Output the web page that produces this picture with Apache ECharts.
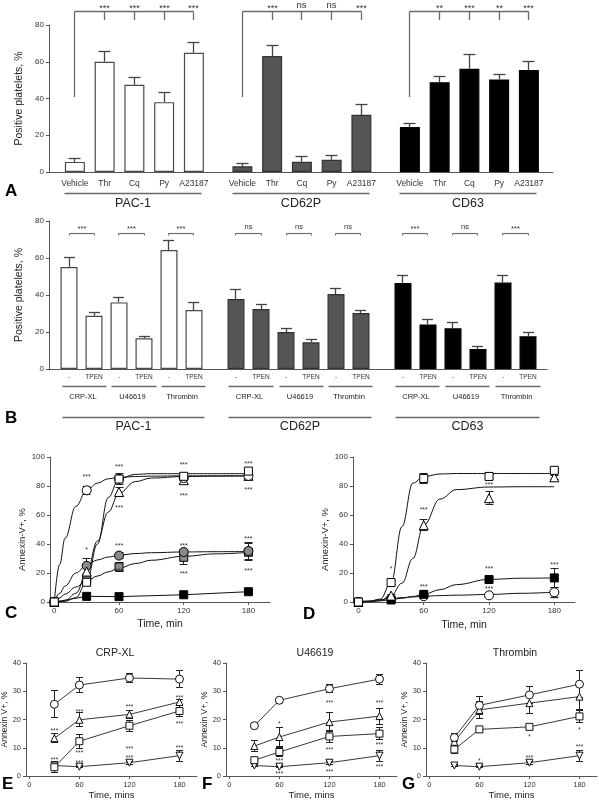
<!DOCTYPE html>
<html><head><meta charset="utf-8">
<script src="https://cdn.jsdelivr.net/npm/echarts@6/dist/echarts.min.js"></script>
<style>html,body{margin:0;padding:0;background:#fff}#c{width:599px;height:800px}</style>
</head><body><div id="c"></div><script>
// ---------------- Panel A data ----------------
const aGroups = ['PAC-1', 'CD62P', 'CD63'];
const aCategories = ['Vehicle', 'Thr', 'Cq', 'Py', 'A23187'];
const aPAC1 = [5.5, 60.0, 47.5, 38.0, 64.9];
const aPAC1Err = [2.1, 5.5, 4.1, 5.1, 5.6];
const aCD62P = [3.1, 63.1, 5.6, 6.7, 31.1];
const aCD62PErr = [1.3, 5.6, 2.9, 2.4, 5.8];
const aCD63 = [24.5, 48.9, 56.2, 50.4, 55.5];
const aCD63Err = [2.0, 3.1, 7.8, 2.5, 4.9];
const aSignif = [['***', '***', '***', '***'], ['***', 'ns', 'ns', '***'], ['**', '***', '**', '***']];
const aYTicks = [0, 20, 40, 60, 80];

// ---------------- Panel B data ----------------
const bGroups = ['PAC-1', 'CD62P', 'CD63'];
const bStimuli = ['CRP-XL', 'U46619', 'Thrombin'];
const bTreatments = ['-', 'TPEN'];
const bPAC1 = [55.1, 28.8, 36.0, 16.6, 64.3, 31.9];
const bPAC1Err = [5.3, 1.7, 2.9, 1.2, 5.2, 3.8];
const bCD62P = [37.8, 32.4, 20.0, 14.4, 40.5, 30.3];
const bCD62PErr = [5.3, 2.7, 2.0, 1.8, 2.9, 1.2];
const bCD63 = [46.5, 24.1, 22.0, 10.8, 46.7, 17.7];
const bCD63Err = [4.1, 2.7, 3.4, 1.1, 3.8, 2.1];
const bSignif = [['***', '***', '***'], ['ns', 'ns', 'ns'], ['***', 'ns', '***']];
const bYTicks = [0, 20, 40, 60, 80];

// ---------------- Panel C data ----------------
const cTimes = [0, 30, 60, 120, 180];
const cOpenCircle = [0, 77.0, 85.0, 85.5, 87.0];
const cOpenCircleErr = [0, 3.0, 0, 0, 0];
const cOpenSquare = [0, 13.6, 84.8, 86.7, 90.3];
const cOpenSquareErr = [0, 2.0, 3.8, 2.0, 0];
const cOpenTriangle = [0, 21.0, 75.9, 84.0, 87.0];
const cOpenTriangleErr = [0, 3.0, 3.0, 2.0, 0];
const cGreyCircle = [0, 25.0, 32.0, 34.5, 35.2];
const cGreyCircleErr = [0, 5.0, 2.0, 1.5, 6.0];
const cGreySquare = [0, 16.0, 24.2, 30.8, 34.3];
const cGreySquareErr = [0, 2.5, 3.0, 4.6, 6.0];
const cBlackSquare = [0, 3.9, 3.7, 5.0, 7.1];
const cFitTimes = [0, 5, 10, 20, 30, 40, 50, 60, 75, 90, 120, 150, 180];
const cOpenCircleFit = [0, 26, 44, 66, 77, 82, 85, 86, 86.5, 86.8, 87, 87, 87];
const cOpenSquareFit = [0, 0.2, 0.5, 3, 14, 40, 72, 85, 88, 88.5, 88.5, 88.5, 88.5];
const cOpenTriangleFit = [0, 0.4, 1, 6, 20, 42, 62, 75, 83, 85.5, 86.5, 86.8, 87];
const cGreyCircleFit = [0, 6, 11, 20, 25.5, 29, 31, 32.3, 33.4, 34, 34.5, 34.7, 34.8];
const cGreySquareFit = [0, 2.8, 5.5, 10.3, 14.5, 17.9, 20.8, 23.3, 26.5, 28.8, 31.5, 33.2, 34.2];
const cStars = [[30, 87.6, '***'], [30, 37, '*'],
  [60, 94.5, '***'], [60, 66.4, '***'], [60, 40, '***'], [60, 22.8, '***'],
  [120, 95.6, '***'], [120, 74.5, '***'], [120, 40, '***'], [120, 20.9, '***'],
  [180, 96.3, '***'], [180, 78.8, '***'], [180, 44.6, '***'], [180, 22.8, '***']];

// ---------------- Panel D data ----------------
const dTimes = [0, 30, 60, 120, 180];
const dOpenSquare = [0, 13.4, 85.2, 86.6, 90.8];
const dOpenSquareErr = [0, 1.5, 3.5, 1.5, 1.0];
const dOpenTriangle = [0, 4.4, 53.0, 71.6, 86.0];
const dOpenTriangleErr = [0, 1.0, 4.0, 4.6, 1.5];
const dBlackSquare = [0, 1.4, 5.3, 15.5, 16.6];
const dBlackSquareErr = [0, 0.5, 1.0, 1.5, 6.5];
const dOpenCircle = [0, 2.0, 4.0, 4.6, 6.7];
const dOpenCircleErr = [0, 0.5, 0.5, 0.5, 3.3];
const dFitTimes = [0, 10, 20, 30, 40, 50, 60, 75, 90, 120, 150, 180];
const dOpenSquareFit = [0, 0.3, 2, 13.4, 52, 82, 86.5, 88.3, 88.6, 88.6, 88.6, 88.6];
const dOpenTriangleFit = [0, 0.2, 1, 4.5, 13, 30, 53, 71, 77.5, 79.3, 79.5, 79.5];
const dBlackSquareFit = [0, 0.2, 0.8, 1.6, 2.6, 3.8, 5.3, 8.5, 12, 15.6, 16.4, 16.6];
const dOpenCircleFit = [0, 0.8, 1.6, 2.3, 3, 3.5, 4, 4.4, 4.7, 5.2, 6, 6.8];
const dStars = [[30, 24.4, '*'], [60, 64.6, '***'], [60, 11.7, '***'],
  [120, 82.3, '***'], [120, 24.4, '***'], [120, 10.1, '***'],
  [180, 26.7, '***'], [180, 3.7, '***']];

// ---------------- Panels E, F, G data ----------------
const efgTimes = [30, 60, 120, 180];
const eCircle = [25.4, 32.2, 34.7, 34.3];
const eCircleErr = [4.8, 2.5, 1.5, 3.0];
const eTriangle = [13.4, 19.9, 21.8, 26.2];
const eTriangleErr = [1.5, 2.5, 1.5, 1.0];
const eSquare = [3.1, 12.3, 17.8, 23.0];
const eSquareErr = [2.0, 2.5, 2.0, 2.0];
const eInvTriangle = [3.7, 3.3, 4.7, 7.2];
const eInvTriangleErr = [0.5, 0.4, 0.5, 2.0];
const eStars = [[30, 16.5, '***'], [30, 6.2, '***'], [60, 23.4, '***'], [60, 8.9, '***'], [60, 5.4, '***'],
  [120, 24.9, '***'], [120, 10.1, '***'], [120, 7.0, '***'], [180, 28.1, '***'], [180, 19.2, '***'], [180, 10.6, '***']];

const fCircle = [17.8, 26.8, 30.9, 34.3];
const fCircleErr = [0.5, 0.8, 1.5, 1.8];
const fTriangle = [10.6, 13.8, 19.1, 21.2];
const fTriangleErr = [1.8, 3.5, 3.5, 2.8];
const fSquare = [5.6, 8.5, 14.0, 15.0];
const fSquareErr = [1.0, 1.5, 2.0, 2.0];
const fInvTriangle = [3.7, 3.3, 4.7, 7.2];
const fInvTriangleErr = [0.5, 0.4, 0.5, 2.0];
const fStars = [[60, 19.2, '*'], [60, 5.8, '***'], [60, 1.4, '***'], [120, 26.4, '***'], [120, 9.7, '***'], [120, 2.0, '***'],
  [180, 26.4, '***'], [180, 11.5, '***'], [180, 3.8, '***']];

const gCircle = [13.6, 25.0, 28.7, 32.5];
const gCircleErr = [1.5, 3.3, 3.0, 4.8];
const gTriangle = [12.1, 23.4, 25.8, 28.1];
const gTriangleErr = [1.5, 3.0, 3.5, 4.5];
const gSquare = [9.4, 16.5, 17.4, 21.1];
const gSquareErr = [1.5, 1.0, 1.0, 2.0];
const gInvTriangle = [3.7, 3.3, 4.7, 7.2];
const gInvTriangleErr = [0.5, 0.4, 0.5, 2.0];
const gStars = [[60, 5.8, '*'], [120, 14.5, '*'], [120, 7.0, '***'], [180, 16.9, '*'], [180, 10.9, '***']];

const timeTicks = [0, 60, 120, 180];

// ---------------- helpers ----------------
const FONT = '"Liberation Sans", Arial, sans-serif';
const AXC = '#555';
const BR = '#6a6a6a';
function crisp(v) { return Math.round(v - 0.5) + 0.5; }
function ln(x1, y1, x2, y2, stroke, w) { return { type: 'line', shape: { x1, y1, x2, y2 }, style: { stroke, lineWidth: w } }; }
function tx(x, y, t, size, extra) {
  return { type: 'text', x, y, style: Object.assign({ text: t, fontSize: size, fontFamily: FONT, fill: '#222', align: 'center', verticalAlign: 'middle' }, extra || {}) };
}
function posA(g, i) { return 0.87 + g * 5.63 + i; }
function posB(g, p, b) { return 0.8 + g * 6.68 + p * 2 + b; }

function errorRender(capW, both, color, lw) {
  return function (params, api) {
    const x = api.value(0), v = api.value(1), e = api.value(2);
    if (!(e > 0)) return { type: 'group', children: [] };
    const px = crisp(api.coord([x, v])[0]);
    const yt = crisp(api.coord([x, v + e])[1]);
    const yb = both ? crisp(api.coord([x, v - e])[1]) : api.coord([x, v])[1];
    const ch = [ln(px, yt, px, yb, color, lw), ln(px - capW / 2, yt, px + capW / 2, yt, color, lw)];
    if (both) ch.push(ln(px - capW / 2, yb, px + capW / 2, yb, color, lw));
    return { type: 'group', children: ch };
  };
}
function starSeries(stars, idx, size) {
  return {
    type: 'custom', xAxisIndex: idx, yAxisIndex: idx, z: 6, silent: true,
    data: stars.map(s => [s[0], s[1]]),
    renderItem: function (params, api) {
      const p = api.coord([api.value(0), api.value(1)]);
      const t = stars[params.dataIndex][2];
      return tx(p[0], p[1] + 2, t, size, { fill: '#333' });
    }
  };
}
function zip(xs, ys) { return xs.map((x, i) => [x, ys[i]]); }
function zip3(xs, ys, es) { return xs.map((x, i) => [x, ys[i], es[i]]); }

const grids = [
  { left: 49, top: 25, width: 504, height: 147 },
  { left: 49, top: 221, width: 498, height: 148 },
  { left: 50, top: 457, width: 220, height: 145 },
  { left: 353, top: 457, width: 222, height: 145 },
  { left: 26, top: 663, width: 171, height: 113 },
  { left: 226, top: 663, width: 171, height: 113 },
  { left: 426, top: 663, width: 171, height: 113 }
].map(g => Object.assign({ outerBoundsMode: 'none', containLabel: false }, g));

const axisLine = { show: true, onZero: false, lineStyle: { color: AXC, width: 1 } };
const tickOut = { show: true, inside: false, length: 3, lineStyle: { color: AXC } };
const lbl = (size, margin) => ({ fontSize: size, fontFamily: FONT, color: '#333', margin });

// A/B x labels
const aPositions = [], aNames = {};
aGroups.forEach((g, gi) => aCategories.forEach((c, i) => { const p = posA(gi, i); aPositions.push(p); aNames[p.toFixed(3)] = c; }));
const bPositions = [], bNames = {};
bGroups.forEach((g, gi) => bStimuli.forEach((s, p) => bTreatments.forEach((t, b) => { const v = posB(gi, p, b); bPositions.push(v); bNames[v.toFixed(3)] = t; })));

const xAxes = [
  { gridIndex: 0, type: 'value', min: 0, max: 16.94, axisLine, axisTick: { show: false }, splitLine: { show: false },
    axisLabel: Object.assign(lbl(8.5, 7), { customValues: aPositions, formatter: v => aNames[(+v).toFixed(3)] || '' }) },
  { gridIndex: 1, type: 'value', min: 0, max: 19.92, axisLine, axisTick: { show: false }, splitLine: { show: false },
    axisLabel: Object.assign(lbl(6.5, 5), { customValues: bPositions, formatter: v => bNames[(+v).toFixed(3)] || '' }) },
  { gridIndex: 2, type: 'value', min: -4, max: 200, axisLine, splitLine: { show: false },
    axisTick: Object.assign({ customValues: timeTicks }, tickOut), axisLabel: Object.assign(lbl(8, 5), { customValues: timeTicks }),
    name: 'Time, min', nameLocation: 'middle', nameGap: 17, nameTextStyle: { fontSize: 10.5, fontFamily: FONT, color: '#222' } },
  { gridIndex: 3, type: 'value', min: -5, max: 199, axisLine, splitLine: { show: false },
    axisTick: Object.assign({ customValues: timeTicks }, tickOut), axisLabel: Object.assign(lbl(8, 5), { customValues: timeTicks }),
    name: 'Time, min', nameLocation: 'middle', nameGap: 18, nameTextStyle: { fontSize: 10.5, fontFamily: FONT, color: '#222' } }
];
[4, 5, 6].forEach(i => xAxes.push({ gridIndex: i, type: 'value', min: -4, max: 201, axisLine, splitLine: { show: false },
  axisTick: Object.assign({ customValues: timeTicks }, tickOut), axisLabel: Object.assign(lbl(7.5, 5), { customValues: timeTicks }),
  name: 'Time, mins', nameLocation: 'middle', nameGap: 14, nameTextStyle: { fontSize: 9.5, fontFamily: FONT, color: '#222' } }));

const yAxes = [
  { gridIndex: 0, type: 'value', min: 0, max: 80, interval: 20, axisLine, axisTick: tickOut, splitLine: { show: false }, axisLabel: lbl(8, 5),
    name: 'Positive platelets, %', nameLocation: 'middle', nameGap: 18, nameRotate: 90, nameTextStyle: { fontSize: 10.5, fontFamily: FONT, color: '#222' } },
  { gridIndex: 1, type: 'value', min: 0, max: 80, interval: 20, axisLine, axisTick: tickOut, splitLine: { show: false }, axisLabel: lbl(8, 5),
    name: 'Positive platelets, %', nameLocation: 'middle', nameGap: 18, nameRotate: 90, nameTextStyle: { fontSize: 10.5, fontFamily: FONT, color: '#222' } },
  { gridIndex: 2, type: 'value', min: 0, max: 100, interval: 20, axisLine, axisTick: tickOut, splitLine: { show: false }, axisLabel: lbl(8, 5),
    name: 'Annexin-V+, %', nameLocation: 'middle', nameGap: 22, nameRotate: 90, nameTextStyle: { fontSize: 9.5, fontFamily: FONT, color: '#222', padding: [0, 20, 0, 0] } },
  { gridIndex: 3, type: 'value', min: 0, max: 100, interval: 20, axisLine, axisTick: tickOut, splitLine: { show: false }, axisLabel: lbl(8, 5),
    name: 'Annexin-V+, %', nameLocation: 'middle', nameGap: 22, nameRotate: 90, nameTextStyle: { fontSize: 9.5, fontFamily: FONT, color: '#222', padding: [0, 20, 0, 0] } }
];
[4, 5, 6].forEach(i => yAxes.push({ gridIndex: i, type: 'value', min: 0, max: 40, interval: 10, axisLine, axisTick: tickOut, splitLine: { show: false },
  axisLabel: lbl(7.5, 5), name: 'Annexin V+, %', nameLocation: 'middle', nameGap: 14, nameRotate: 90,
  nameTextStyle: { fontSize: 8.5, fontFamily: FONT, color: '#222' } }));

const series = [];
// ---------- Panel A ----------
const barStyles = [
  { color: '#ffffff', borderColor: '#4a4a4a', borderWidth: 1.2 },
  { color: '#555555', borderColor: '#333333', borderWidth: 1.2 },
  { color: '#000000', borderColor: '#000000', borderWidth: 1.2 }
];
const aVals = [aPAC1, aCD62P, aCD63], aErrs = [aPAC1Err, aCD62PErr, aCD63Err];
const aBarData = [], aErrData = [];
aVals.forEach((vals, g) => vals.forEach((v, i) => {
  aBarData.push({ value: [posA(g, i), v], itemStyle: barStyles[g] });
  aErrData.push([posA(g, i), v, aErrs[g][i]]);
}));
series.push({ type: 'bar', xAxisIndex: 0, yAxisIndex: 0, barWidth: 20, data: aBarData, z: 3, silent: true });
series.push({ type: 'custom', xAxisIndex: 0, yAxisIndex: 0, z: 2, data: aErrData, renderItem: errorRender(12, false, '#444', 1.3), silent: true });
series.push({
  type: 'custom', xAxisIndex: 0, yAxisIndex: 0, z: 4, silent: true, data: aGroups.map((g, i) => [i, 0]),
  renderItem: function (params, api) {
    const g = params.dataIndex;
    const xs = aCategories.map((c, i) => crisp(api.coord([posA(g, i), 0])[0]));
    const y0 = api.coord([0, 0])[1];
    const yTop = crisp(api.coord([0, 87.1])[1]);
    const yDrop = api.coord([0, 40.8])[1];
    const yTick = api.coord([0, 82.7])[1];
    const yStar = api.coord([0, 90.0])[1];
    const ch = [ln(xs[0], yTop, xs[4], yTop, BR, 1.3), ln(xs[0], yTop, xs[0], yDrop, BR, 1.3)];
    for (let i = 1; i < xs.length; i++) {
      ch.push(ln(xs[i], yTop, xs[i], yTick, BR, 1.3));
      const t = aSignif[g][i - 1];
      ch.push(tx(xs[i], yStar + (t === 'ns' ? -1 : 2), t, t === 'ns' ? 9.5 : 9, { fill: '#333' }));
    }
    const xl = xs[0] - 10, xr = xs[4] + 8;
    ch.push(ln(xl, crisp(y0 + 21), xr, crisp(y0 + 21), BR, 1.3));
    ch.push(tx((xl + xr) / 2, y0 + 32, aGroups[g], 12.5));
    return { type: 'group', children: ch };
  }
});
// ---------- Panel B ----------
const bVals = [bPAC1, bCD62P, bCD63], bErrs = [bPAC1Err, bCD62PErr, bCD63Err];
const bBarData = [], bErrData = [];
bVals.forEach((vals, g) => vals.forEach((v, k) => {
  const x = posB(g, Math.floor(k / 2), k % 2);
  bBarData.push({ value: [x, v], itemStyle: barStyles[g] });
  bErrData.push([x, v, bErrs[g][k]]);
}));
series.push({ type: 'bar', xAxisIndex: 1, yAxisIndex: 1, barWidth: 17, data: bBarData, z: 3, silent: true });
series.push({ type: 'custom', xAxisIndex: 1, yAxisIndex: 1, z: 2, data: bErrData, renderItem: errorRender(11, false, '#444', 1.3), silent: true });
series.push({
  type: 'custom', xAxisIndex: 1, yAxisIndex: 1, z: 4, silent: true, data: bGroups.map((g, i) => [i, 0]),
  renderItem: function (params, api) {
    const g = params.dataIndex;
    const y0 = api.coord([0, 0])[1];
    const yBr = crisp(api.coord([0, 73.5])[1]);
    const yEnd = api.coord([0, 72.2])[1];
    const yStar = api.coord([0, 76.8])[1];
    const ch = [];
    let first = 0, last = 0;
    bStimuli.forEach((s, p) => {
      const xa = crisp(api.coord([posB(g, p, 0), 0])[0]);
      const xb = crisp(api.coord([posB(g, p, 1), 0])[0]);
      if (p === 0) first = xa;
      last = xb;
      ch.push(ln(xa, yBr, xb, yBr, BR, 1.1), ln(xa, yBr, xa, yEnd, BR, 1.1), ln(xb, yBr, xb, yEnd, BR, 1.1));
      const t = bSignif[g][p];
      ch.push(tx((xa + xb) / 2, yStar + (t === 'ns' ? 0 : 2), t, 7.5, { fill: '#333' }));
      ch.push(ln(xa - 7, crisp(y0 + 17), xb + 12, crisp(y0 + 17), BR, 1.3));
      ch.push(tx((xa + xb) / 2 + 1, y0 + 28, s, 7.5));
    });
    ch.push(ln(first - 7, crisp(y0 + 48), last + 11, crisp(y0 + 48), BR, 1.3));
    ch.push(tx((first + last) / 2 + 2, y0 + 58, bGroups[g], 12.5));
    return { type: 'group', children: ch };
  }
});

// ---------- Panels C & D ----------
function pointSeries(idx, times, vals, symbol, fill, size, rotate) {
  return { type: 'scatter', xAxisIndex: idx, yAxisIndex: idx, z: 5, silent: true, symbol, symbolSize: size, symbolRotate: rotate || 0,
    itemStyle: { color: fill, borderColor: '#000', borderWidth: 1, opacity: 1 }, data: zip(times, vals) };
}
function errSeries(idx, times, vals, errs, cap) {
  return { type: 'custom', xAxisIndex: idx, yAxisIndex: idx, z: 4, silent: true, data: zip3(times, vals, errs), renderItem: errorRender(cap, true, '#222', 1) };
}
function fitSeries(idx, times, vals, smooth) {
  return { type: 'line', xAxisIndex: idx, yAxisIndex: idx, z: 3, silent: true, showSymbol: false, symbol: 'none',
    smooth: smooth, smoothMonotone: 'x', lineStyle: { color: '#111', width: 1 }, data: zip(times, vals) };
}
const GREY = '#8a8a8a';
// C
series.push(fitSeries(2, cFitTimes, cOpenCircleFit, 0.4), fitSeries(2, cFitTimes, cOpenSquareFit, 0.4),
  fitSeries(2, cFitTimes, cOpenTriangleFit, 0.4), fitSeries(2, cFitTimes, cGreyCircleFit, 0.4),
  fitSeries(2, cFitTimes, cGreySquareFit, 0.4), fitSeries(2, cTimes, cBlackSquare, false));
series.push(errSeries(2, cTimes, cOpenCircle, cOpenCircleErr, 8), errSeries(2, cTimes, cOpenSquare, cOpenSquareErr, 8),
  errSeries(2, cTimes, cOpenTriangle, cOpenTriangleErr, 8), errSeries(2, cTimes, cGreyCircle, cGreyCircleErr, 8),
  errSeries(2, cTimes, cGreySquare, cGreySquareErr, 8));
series.push(pointSeries(2, cTimes, cBlackSquare, 'rect', '#000', 8),
  pointSeries(2, cTimes, cGreySquare, 'rect', GREY, 8), pointSeries(2, cTimes, cGreyCircle, 'circle', GREY, 9),
  pointSeries(2, cTimes, cOpenTriangle, 'triangle', '#fff', 9), pointSeries(2, cTimes, cOpenCircle, 'circle', '#fff', 9),
  pointSeries(2, cTimes, cOpenSquare, 'rect', '#fff', 8));
series.push(starSeries(cStars, 2, 7));
// D
series.push(fitSeries(3, dFitTimes, dOpenSquareFit, 0.4), fitSeries(3, dFitTimes, dOpenTriangleFit, 0.4),
  fitSeries(3, dFitTimes, dBlackSquareFit, 0.4), fitSeries(3, dFitTimes, dOpenCircleFit, 0.4));
series.push(errSeries(3, dTimes, dOpenSquare, dOpenSquareErr, 8), errSeries(3, dTimes, dOpenTriangle, dOpenTriangleErr, 8),
  errSeries(3, dTimes, dBlackSquare, dBlackSquareErr, 8), errSeries(3, dTimes, dOpenCircle, dOpenCircleErr, 8));
series.push(pointSeries(3, dTimes, dOpenCircle, 'circle', '#fff', 9), pointSeries(3, dTimes, dBlackSquare, 'rect', '#000', 8),
  pointSeries(3, dTimes, dOpenTriangle, 'triangle', '#fff', 9), pointSeries(3, dTimes, dOpenSquare, 'rect', '#fff', 8));
series.push(starSeries(dStars, 3, 7));

// ---------- Panels E, F, G ----------
function efgLine(idx, vals, symbol, size, rotate) {
  return { type: 'line', xAxisIndex: idx, yAxisIndex: idx, z: 5, silent: true, showSymbol: true, symbol, symbolSize: size, symbolRotate: rotate || 0,
    lineStyle: { color: '#222', width: 0.9 }, itemStyle: { color: '#fff', borderColor: '#111', borderWidth: 1 }, data: zip(efgTimes, vals) };
}
const efgSets = [
  [eCircle, eCircleErr, eTriangle, eTriangleErr, eSquare, eSquareErr, eInvTriangle, eInvTriangleErr, eStars],
  [fCircle, fCircleErr, fTriangle, fTriangleErr, fSquare, fSquareErr, fInvTriangle, fInvTriangleErr, fStars],
  [gCircle, gCircleErr, gTriangle, gTriangleErr, gSquare, gSquareErr, gInvTriangle, gInvTriangleErr, gStars]
];
efgSets.forEach((s, k) => {
  const idx = 4 + k;
  series.push(errSeries(idx, efgTimes, s[0], s[1], 7), errSeries(idx, efgTimes, s[2], s[3], 7),
    errSeries(idx, efgTimes, s[4], s[5], 7), errSeries(idx, efgTimes, s[6], s[7], 7));
  series.push(efgLine(idx, s[6], 'triangle', 7, 180), efgLine(idx, s[4], 'rect', 7), efgLine(idx, s[2], 'triangle', 7), efgLine(idx, s[0], 'circle', 8));
  series.push(starSeries(s[8], idx, 6.5));
});

const letter = (t, x, y) => ({ type: 'text', left: x, top: y, style: { text: t, fontSize: 17, fontWeight: 'bold', fontFamily: FONT, fill: '#000' } });
const title = (t, cx, y) => ({ type: 'text', x: cx, y: y, style: { text: t, fontSize: 10.5, fontFamily: FONT, fill: '#222', align: 'center', verticalAlign: 'middle' } });

const chart = echarts.init(document.getElementById('c'), null, { renderer: 'canvas' });
chart.setOption({
  animation: false,
  backgroundColor: '#fff',
  grid: grids, xAxis: xAxes, yAxis: yAxes, series,
  graphic: [
    letter('A', 5, 183), letter('B', 5, 410), letter('C', 5, 605), letter('D', 303, 606),
    letter('E', 2, 776), letter('F', 202, 776), letter('G', 402, 776),
    title('CRP-XL', 115, 653), title('U46619', 315, 653), title('Thrombin', 515, 653)
  ]
});
</script></body></html>
